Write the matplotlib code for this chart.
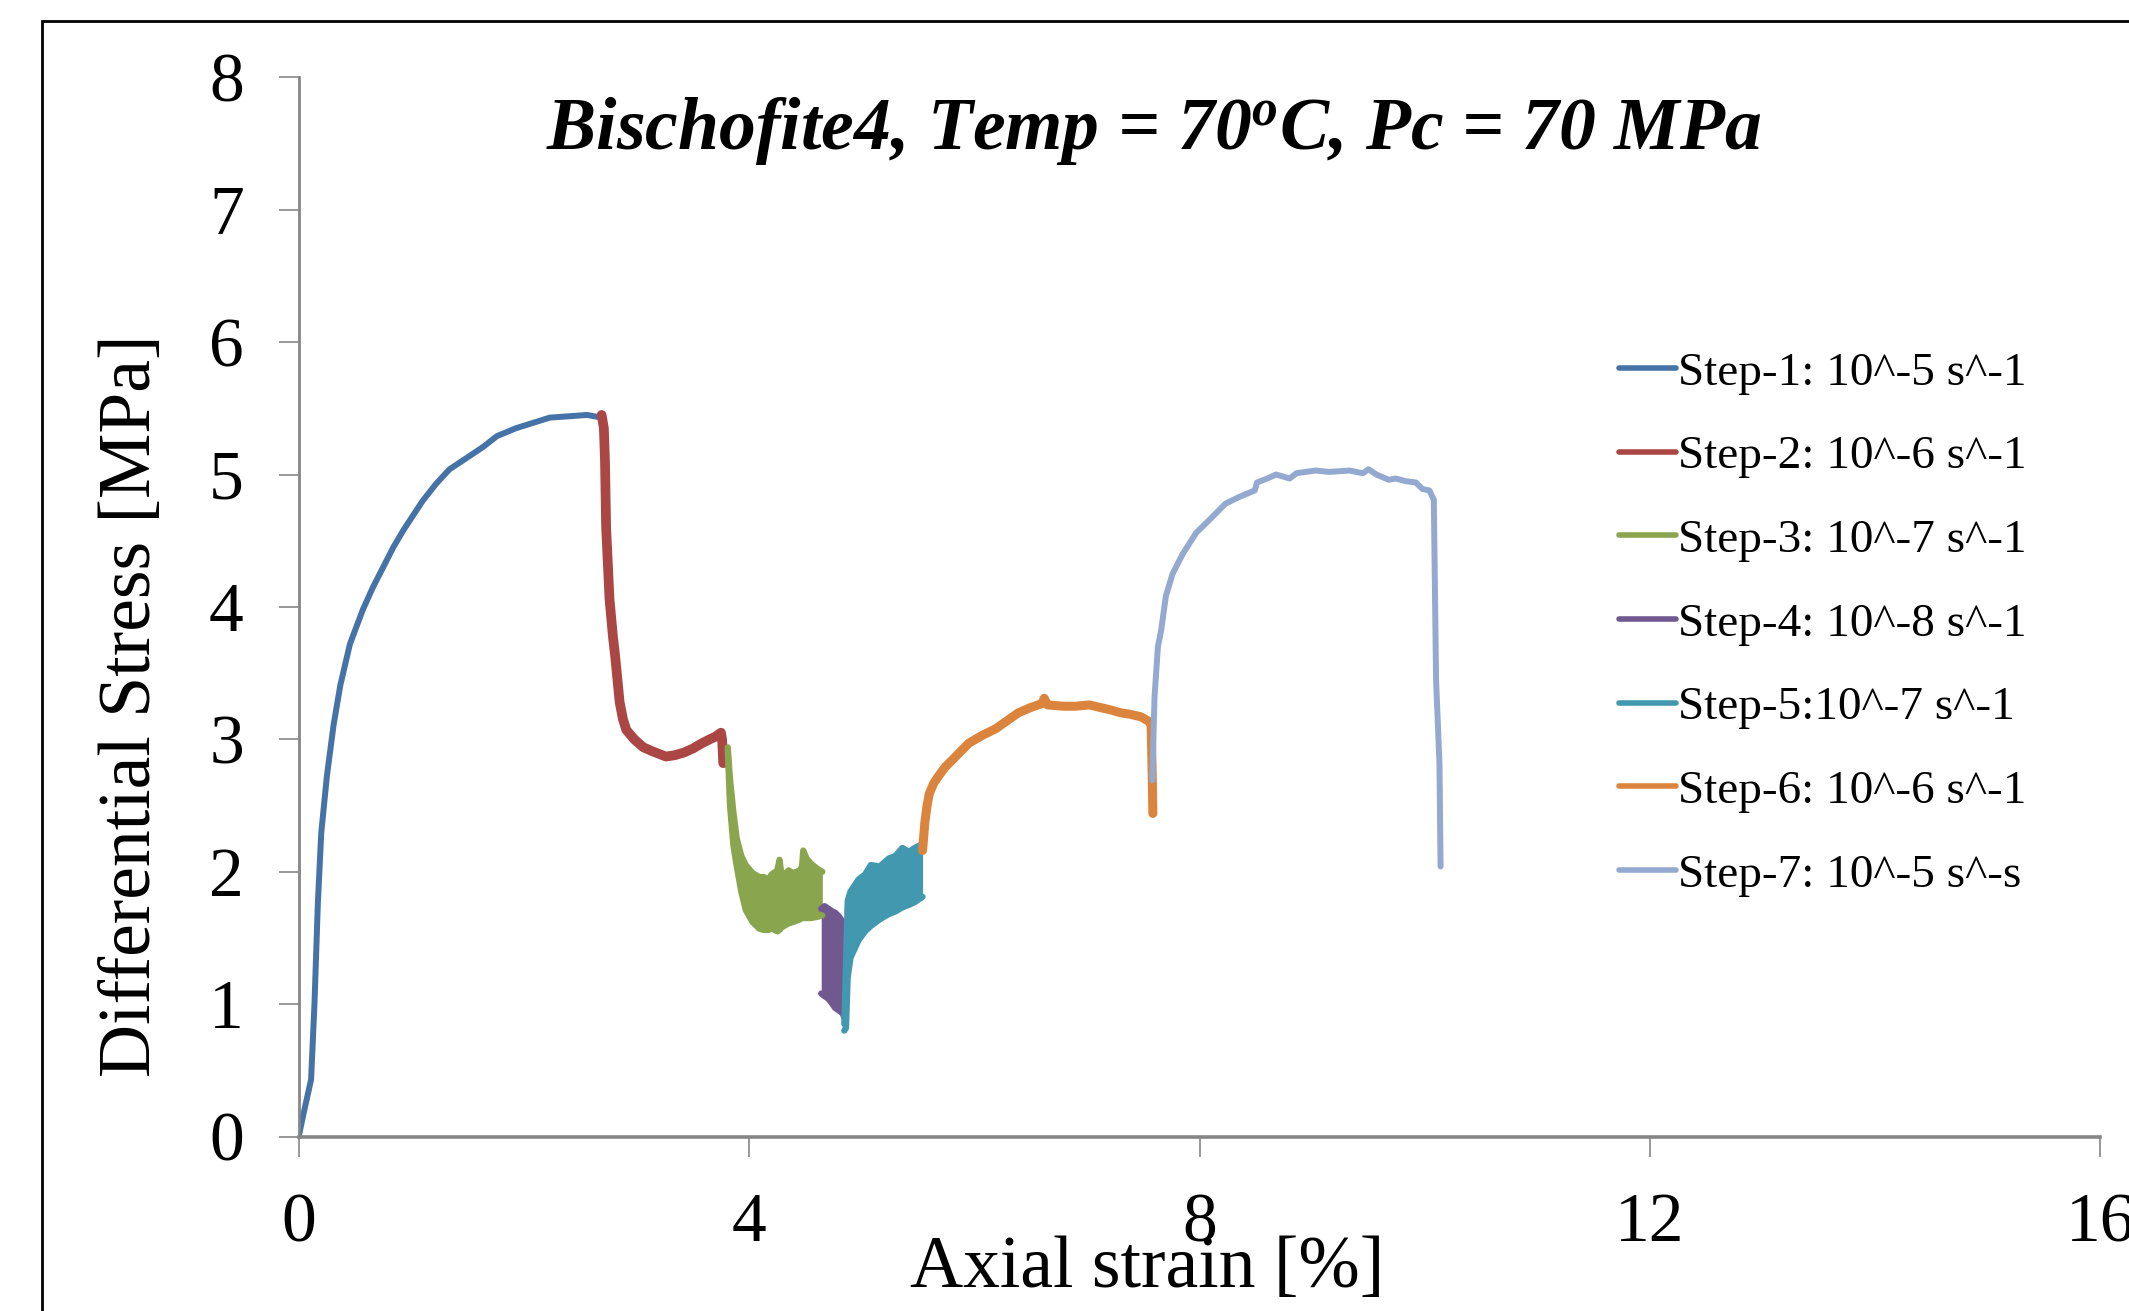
import matplotlib
matplotlib.use("Agg")
import matplotlib.pyplot as plt
from matplotlib.patches import Rectangle

plt.rcParams['font.family'] = ['Liberation Serif', 'DejaVu Serif']
plt.rcParams['mathtext.fontset'] = 'custom'
plt.rcParams['mathtext.it'] = 'Liberation Serif:bold:italic'
plt.rcParams['mathtext.rm'] = 'Liberation Serif:bold:italic'

# ---------------- data ----------------
labels = ["Step-1: 10^-5 s^-1", "Step-2: 10^-6 s^-1", "Step-3: 10^-7 s^-1",
          "Step-4: 10^-8 s^-1", "Step-5:10^-7 s^-1", "Step-6: 10^-6 s^-1",
          "Step-7: 10^-5 s^-s"]
colors = ["#4572A7", "#AA4643", "#89A54E", "#71588F", "#4198AF", "#DB843D", "#93A9CF"]

# Step 1 (single curve)
s1_x = [0, 0.05, 0.11, 0.14, 0.17, 0.20, 0.25, 0.31, 0.37, 0.455, 0.57, 0.66, 0.75, 0.84,
        0.93, 1.10, 1.22, 1.34, 1.50, 1.64, 1.76, 1.93, 2.08, 2.23, 2.40, 2.56, 2.69]
s1_y = [0, 0.2, 0.43, 1.0, 1.76, 2.29, 2.72, 3.11, 3.41, 3.72, 3.98, 4.15, 4.30, 4.45,
        4.58, 4.80, 4.93, 5.04, 5.13, 5.21, 5.29, 5.35, 5.39, 5.43, 5.44, 5.45, 5.43]

# Step 2
s2_x = [2.69, 2.71, 2.72, 2.73, 2.76, 2.79, 2.81, 2.85, 2.88, 2.91, 2.98, 3.06, 3.14,
        3.26, 3.34, 3.42, 3.50, 3.58, 3.65, 3.70, 3.75, 3.76, 3.77]
s2_y = [5.45, 5.35, 5.10, 4.60, 4.06, 3.78, 3.63, 3.28, 3.15, 3.07, 3.00, 2.94, 2.91,
        2.87, 2.88, 2.90, 2.93, 2.97, 3.00, 3.02, 3.05, 3.00, 2.82]

# Step 3 (oscillating band: lower / upper envelope)
s3_x = [3.81, 3.83, 3.86, 3.89, 3.93, 3.97, 4.03, 4.09, 4.13, 4.17, 4.20, 4.25, 4.27,
        4.29, 4.35, 4.39, 4.45, 4.47, 4.48, 4.51, 4.55, 4.61, 4.65]
s3_lo = [2.92, 2.50, 2.20, 2.04, 1.85, 1.71, 1.62, 1.57, 1.56, 1.56, 1.57, 1.55, 1.56,
         1.58, 1.61, 1.62, 1.64, 1.65, 1.65, 1.65, 1.65, 1.66, 1.67]
s3_hi = [2.94, 2.70, 2.45, 2.25, 2.12, 2.05, 1.99, 1.96, 1.96, 1.94, 1.98, 2.01, 2.09,
         1.96, 2.01, 1.99, 2.01, 2.04, 2.16, 2.10, 2.06, 2.02, 2.00]

# Step 4 (band)
s4_x = [4.64, 4.67, 4.705, 4.74, 4.765, 4.80, 4.83, 4.845]
s4_lo = [1.08, 1.06, 1.04, 1.00, 0.97, 0.95, 0.93, 0.90]
s4_hi = [1.72, 1.74, 1.72, 1.70, 1.69, 1.66, 1.62, 1.55]

# Step 5 (band)
s5_x = [4.845, 4.86, 4.875, 4.90, 4.97, 5.03, 5.08, 5.16, 5.24, 5.30, 5.36, 5.42, 5.47, 5.54]
s5_lo = [0.80, 0.82, 1.20, 1.35, 1.48, 1.55, 1.59, 1.64, 1.68, 1.70, 1.73, 1.75, 1.77, 1.81]
s5_hi = [0.85, 1.30, 1.78, 1.85, 1.94, 1.98, 2.05, 2.04, 2.10, 2.12, 2.18, 2.15, 2.18, 2.21]

# Step 6
s6_x = [5.54, 5.56, 5.58, 5.60, 5.64, 5.68, 5.74, 5.80, 5.88, 5.95, 6.07, 6.19, 6.29,
        6.39, 6.50, 6.60, 6.62, 6.65, 6.79, 6.90, 7.02, 7.12, 7.22, 7.30, 7.38, 7.48,
        7.56, 7.57, 7.58, 7.585]
s6_y = [2.16, 2.37, 2.50, 2.59, 2.67, 2.72, 2.79, 2.84, 2.91, 2.97, 3.03, 3.08, 3.14,
        3.20, 3.24, 3.27, 3.31, 3.26, 3.25, 3.25, 3.26, 3.24, 3.22, 3.20, 3.19, 3.17,
        3.13, 3.10, 2.70, 2.44]

# Step 7
s7_x = [7.58, 7.60, 7.63, 7.66, 7.70, 7.76, 7.85, 7.97, 8.09, 8.23, 8.35, 8.49, 8.51,
        8.60, 8.68, 8.80, 8.86, 9.03, 9.15, 9.33, 9.45, 9.50, 9.57, 9.68, 9.74, 9.83,
        9.92, 9.98, 10.04, 10.08, 10.10, 10.13, 10.14]
s7_y = [2.69, 3.32, 3.70, 3.83, 4.08, 4.25, 4.40, 4.56, 4.66, 4.78, 4.83, 4.88, 4.94,
        4.97, 5.00, 4.97, 5.01, 5.03, 5.02, 5.03, 5.01, 5.04, 5.00, 4.96, 4.97, 4.95,
        4.94, 4.89, 4.88, 4.81, 3.45, 2.82, 2.04]

x_ticks = [0, 4, 8, 12, 16]
y_ticks = [0, 1, 2, 3, 4, 5, 6, 7, 8]

# ---------------- figure ----------------
fig = plt.figure(figsize=(21.29, 13.11), dpi=100)
# outer chart frame (cropped on right / bottom)
fig.patches.append(Rectangle((0.0197, -0.2), 1.5, 1.184, transform=fig.transFigure,
                             fill=False, edgecolor='black', linewidth=2.0, clip_on=False))

ax = fig.add_axes([0.1403, 0.1331, 0.8463, 0.8079])
ax.set_xlim(0, 16)
ax.set_ylim(0, 8)

gray = '#868686'
for s in ['top', 'right']:
    ax.spines[s].set_visible(False)
for s in ['left', 'bottom']:
    ax.spines[s].set_color(gray)
    ax.spines[s].set_linewidth(2.0)
ax.spines['bottom'].set_linewidth(2.6)

ax.set_xticks(x_ticks)
ax.set_yticks(y_ticks)
ax.set_xticklabels([str(v) for v in x_ticks])
ax.set_yticklabels([str(v) for v in y_ticks])
ax.tick_params(axis='both', direction='out', length=14.5, width=1.2, color=gray,
               labelsize=50, labelcolor='black')
ax.tick_params(axis='x', pad=26)
ax.tick_params(axis='y', pad=25)
for lab in ax.get_xticklabels():
    lab.set_clip_on(False)

kw = dict(solid_capstyle='round', solid_joinstyle='round')
handles = []
h, = ax.plot(s1_x, s1_y, color=colors[0], lw=4.3, label=labels[0], **kw)
handles.append(h)
h, = ax.plot(s2_x, s2_y, color=colors[1], lw=7.0, label=labels[1], **kw)
handles.append(h)

for (bx, blo, bhi, c, lab) in [(s3_x, s3_lo, s3_hi, colors[2], labels[2]),
                               (s4_x, s4_lo, s4_hi, colors[3], labels[3]),
                               (s5_x, s5_lo, s5_hi, colors[4], labels[4])]:
    ax.fill_between(bx, blo, bhi, color=c, lw=0)
    ax.plot(bx, blo, color=c, lw=4.5, **kw)
    h, = ax.plot(bx, bhi, color=c, lw=4.5, label=lab, **kw)
    handles.append(h)

h, = ax.plot(s6_x, s6_y, color=colors[5], lw=6.5, label=labels[5], **kw)
handles.append(h)
h, = ax.plot(s7_x, s7_y, color=colors[6], lw=4.3, label=labels[6], **kw)
handles.append(h)

leg = fig.legend(handles=handles, labels=labels, loc='center left',
                 bbox_to_anchor=(0.7605, 0.524), bbox_transform=fig.transFigure,
                 frameon=False, fontsize=34, handlelength=1.2, handletextpad=0.05,
                 labelspacing=0.86, borderpad=0, borderaxespad=0)
for ln in leg.get_lines():
    ln.set_linewidth(4.0)
    ln.set_solid_capstyle('round')

# labels and title
fig.text(0.062, 0.4615, 'Differential Stress [MPa]', rotation=90, ha='center',
         va='center', fontsize=53)
fig.text(0.5388, 0.0183, 'Axial strain [%]', ha='center', va='baseline', fontsize=53)
fig.text(0.542, 0.886, r'Bischofite4, Temp = 70$^{o}$C, Pc = 70 MPa', ha='center',
         va='baseline', fontsize=53, fontweight='bold', fontstyle='italic')

fig.savefig('out.png', dpi=100)
